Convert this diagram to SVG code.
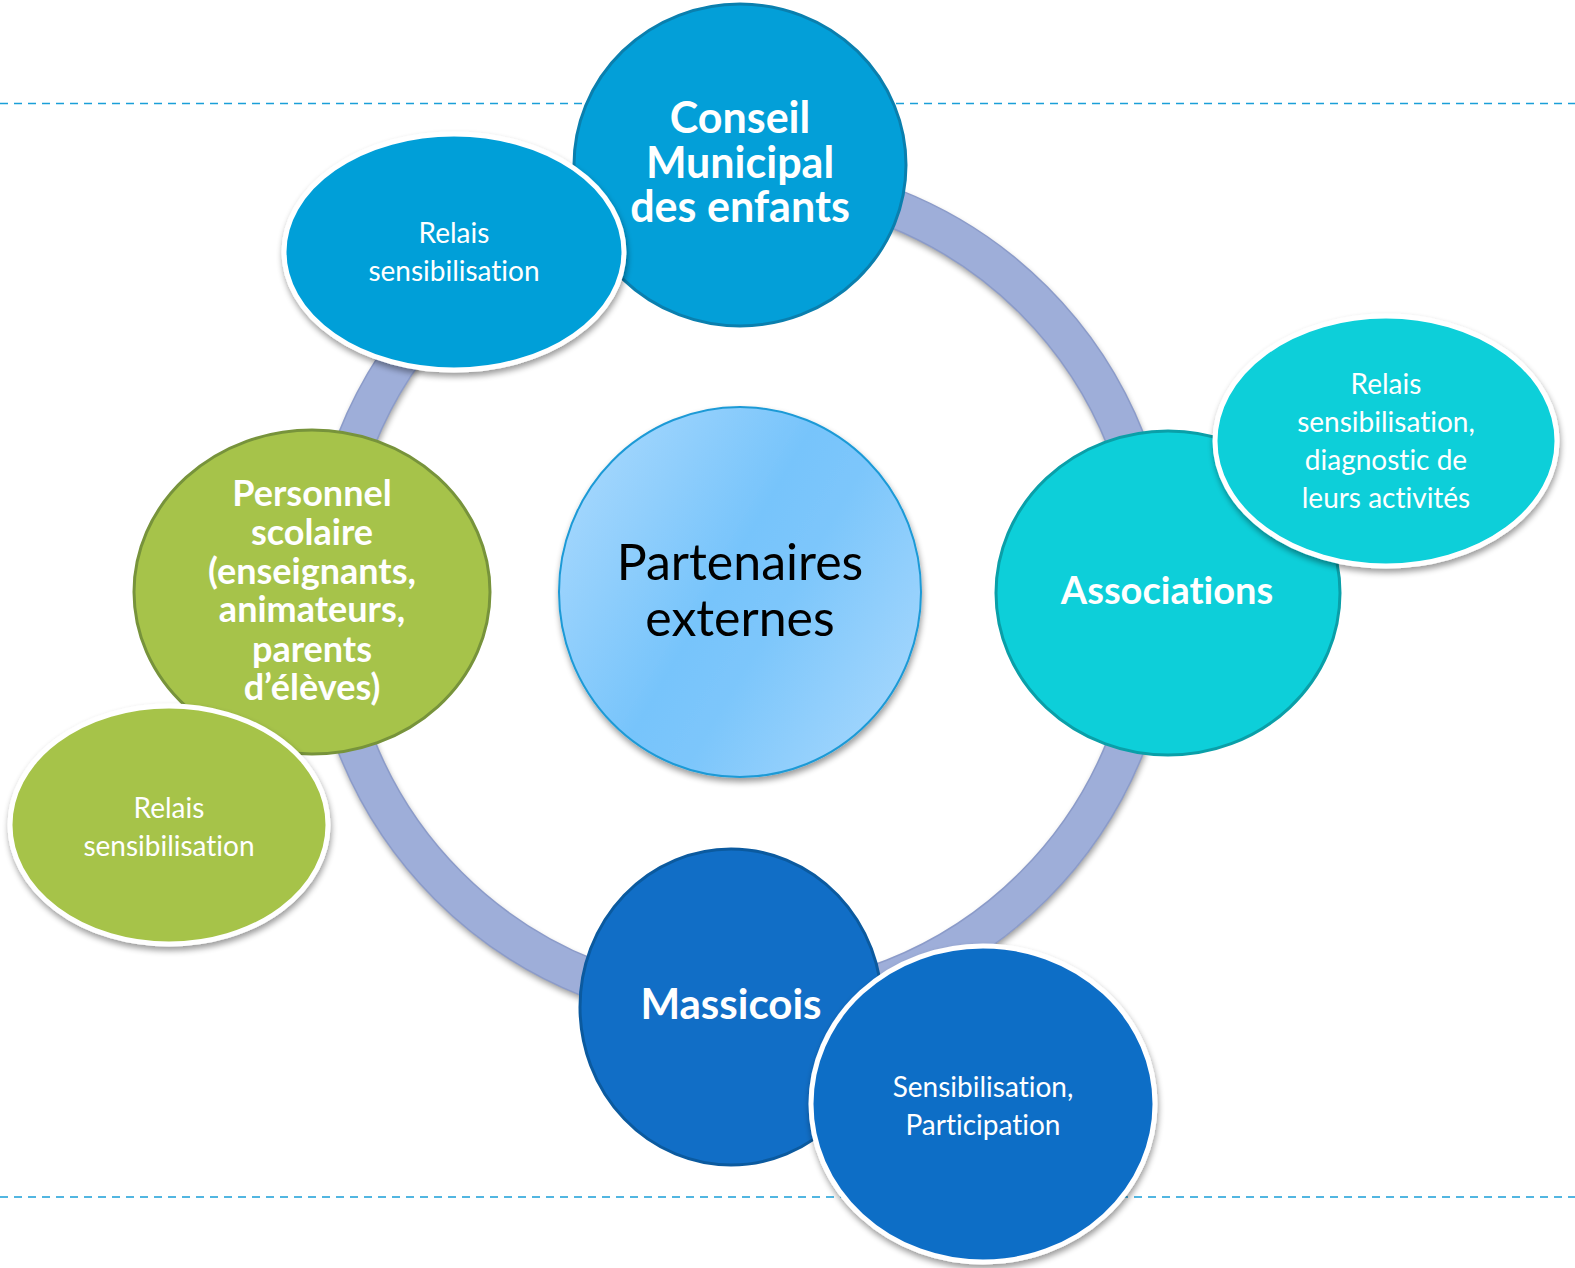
<svg xmlns="http://www.w3.org/2000/svg" width="1575" height="1268" viewBox="0 0 1575 1268">
<defs>
<filter id="sh" x="-20%" y="-20%" width="140%" height="140%">
<feGaussianBlur in="SourceAlpha" stdDeviation="3"/>
<feOffset dx="1" dy="4" result="b"/>
<feComponentTransfer><feFuncA type="linear" slope="0.4"/></feComponentTransfer>
<feMerge><feMergeNode/><feMergeNode in="SourceGraphic"/></feMerge>
</filter>
<linearGradient id="cg" x1="0" y1="0.2" x2="1" y2="0.8">
<stop offset="0" stop-color="#a7d8fd"/>
<stop offset="0.45" stop-color="#77c4fb"/>
<stop offset="0.6" stop-color="#7cc6fb"/>
<stop offset="1" stop-color="#a5d7fd"/>
</linearGradient>
<style>
.dash{stroke:#1a9fd8;stroke-width:1.6;stroke-dasharray:8 6;fill:none}
.ring{fill:none;stroke:#9eaed9;stroke-width:38}
.ringedge{fill:none;stroke:#8b9bc9;stroke-width:1.5}
.main{stroke-width:3}
.sub{stroke:#ffffff;stroke-width:5}
text{font-variant-ligatures:none;font-feature-settings:"liga" 0}
.t{font-family:Lato,"Liberation Sans",sans-serif;fill:#ffffff;text-anchor:middle}
.b{font-weight:bold}
.s{font-size:28px}
</style>
</defs>
<rect width="1575" height="1268" fill="#ffffff"/>
<line class="dash" x1="0" y1="103.5" x2="1575" y2="103.5"/>
<line class="dash" x1="0" y1="1197" x2="1575" y2="1197"/>
<g id="connectors">
<g filter="url(#sh)">
<circle class="ring" cx="741" cy="593" r="414"/>
</g>
<circle class="ringedge" cx="741" cy="593" r="433"/>
<circle class="ringedge" cx="741" cy="593" r="395"/>
</g>
<g id="center">
<ellipse cx="740" cy="592" rx="181" ry="185" fill="url(#cg)" stroke="#1d9ad6" stroke-width="2" filter="url(#sh)"/>
<text x="740" y="580" font-family="Lato,'Liberation Sans',sans-serif" font-size="50" fill="#000000" text-anchor="middle">Partenaires</text>
<text x="740" y="636" font-family="Lato,'Liberation Sans',sans-serif" font-size="50" fill="#000000" text-anchor="middle">externes</text>
</g>
<g id="conseil">
<ellipse class="main" cx="740" cy="165" rx="166" ry="161" fill="#039fd8" stroke="#0a7fae"/>
<text class="t b" font-size="43" x="740" y="133">Conseil</text>
<text class="t b" font-size="43" x="740" y="178">Municipal</text>
<text class="t b" font-size="43" x="740" y="222">des enfants</text>
</g>
<g id="relais-conseil">
<ellipse class="sub" cx="454" cy="252" rx="170" ry="118" fill="#039fd8" filter="url(#sh)"/>
<text class="t s" x="454" y="243">Relais</text>
<text class="t s" x="454" y="281">sensibilisation</text>
</g>
<g id="associations">
<ellipse class="main" cx="1168" cy="593" rx="172" ry="162" fill="#0dcfd9" stroke="#0a9fa8"/>
<text class="t b" font-size="38" x="1167" y="604">Associations</text>
</g>
<g id="relais-associations">
<ellipse class="sub" cx="1386" cy="441" rx="171" ry="125" fill="#0dcfd9" filter="url(#sh)"/>
<text class="t s" x="1386" y="394">Relais</text>
<text class="t s" x="1386" y="432">sensibilisation,</text>
<text class="t s" x="1386" y="470">diagnostic de</text>
<text class="t s" x="1386" y="508">leurs activités</text>
</g>
<g id="personnel">
<ellipse class="main" cx="312" cy="592" rx="178" ry="162" fill="#a6c34a" stroke="#77933b"/>
<text class="t b" font-size="36" x="312" y="506">Personnel</text>
<text class="t b" font-size="36" x="312" y="545">scolaire</text>
<text class="t b" font-size="36" x="312" y="584">(enseignants,</text>
<text class="t b" font-size="36" x="312" y="622">animateurs,</text>
<text class="t b" font-size="36" x="312" y="662">parents</text>
<text class="t b" font-size="36" x="312" y="700">d’élèves)</text>
</g>
<g id="relais-personnel">
<ellipse class="sub" cx="169" cy="825" rx="159" ry="119" fill="#a6c34a" filter="url(#sh)"/>
<text class="t s" x="169" y="818">Relais</text>
<text class="t s" x="169" y="856">sensibilisation</text>
</g>
<g id="massicois">
<ellipse class="main" cx="731" cy="1007" rx="151" ry="158" fill="#116ec6" stroke="#0b5a9f"/>
<text class="t b" font-size="42" x="731" y="1019">Massicois</text>
</g>
<g id="sensibilisation">
<ellipse class="sub" cx="983" cy="1104" rx="172" ry="158" fill="#116ec6" filter="url(#sh)"/>
<text class="t s" x="983" y="1097">Sensibilisation,</text>
<text class="t s" x="983" y="1135">Participation</text>
</g>
</svg>
